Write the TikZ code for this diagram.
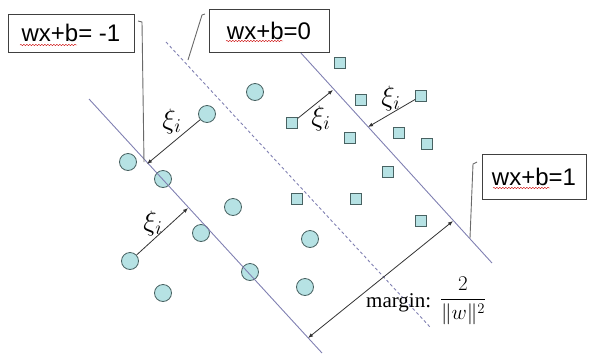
\RequirePackage{fix-cm}
\documentclass[tikz,border=0pt]{standalone}
\usepackage{amsmath}
\usepackage{fontspec}
\setmainfont{Liberation Serif}
\newfontfamily\boxfont{Liberation Sans}
\usepackage{xcolor}
\usetikzlibrary{arrows.meta, positioning, calc, decorations.pathmorphing}

\definecolor{hypline}{RGB}{128,128,178}
\definecolor{ptfill}{RGB}{182,226,228}
\definecolor{ptdraw}{RGB}{72,98,98}
\definecolor{callgray}{RGB}{105,105,105}

\tikzset{
  ptcirc/.style={circle, draw=ptdraw, fill=ptfill, line width=0.8pt, minimum size=17pt, inner sep=0pt},
  ptsq/.style={rectangle, draw=ptdraw, fill=ptfill, line width=0.8pt, minimum size=11pt, inner sep=0pt},
  eqbox/.style={draw=black!75, line width=0.8pt, fill=white, inner sep=0pt,
    font=\boxfont\fontsize{24}{28}\selectfont},
  hyp/.style={hypline, line width=0.9pt},
  slack/.style={black!80, line width=0.8pt, -{Latex[length=5pt,width=4pt]}},
  callout/.style={callgray, line width=0.9pt},
  xilab/.style={font=\fontsize{28}{32}\selectfont, inner sep=0pt},
  squiggle/.style={red!80!black, line width=0.4pt, decorate,
    decoration={snake, amplitude=0.7pt, segment length=3pt}}
}

\begin{document}
\begin{tikzpicture}[x=1pt, y=-1pt]
\useasboundingbox (0,0) rectangle (592,354);

% points of the two classes
\foreach \x/\y [count=\k] in {128/162, 163/179, 207/114, 255/92, 233/207, 201/233,
    130/261, 250/272, 163/293, 310/239, 305/287} {
  \node[ptcirc] (c\k) at (\x,\y) {};
}
\foreach \x/\y [count=\k] in {340/63, 292/123, 361/100, 421/96, 350/138, 399/133,
    427/144, 388/172, 297/199, 356/199, 421/221} {
  \node[ptsq] (s\k) at (\x,\y) {};
}

% the three hyperplanes
\coordinate (lowA) at (89,99);
\coordinate (lowB) at (322,353);
\coordinate (midA) at (166,42);
\coordinate (midB) at (430,327);
\coordinate (upA) at (300,52);
\coordinate (upB) at (492,263);
\draw[hyp] (lowA) -- (lowB);
\draw[hyp, dash pattern=on 3pt off 2.5pt] (midA) -- (midB);
\draw[hyp] (upA) -- (upB);

% slack arrows
\coordinate (f1) at (147,164);
\coordinate (f2) at (188,208);
\coordinate (f3) at (333,90);
\coordinate (f4) at (368,127);
\draw[slack] (c3) -- (f1);
\draw[slack] (c7) -- (f2);
\draw[slack] (s2) -- (f3);
\draw[slack] (s4) -- (f4);

\node[xilab] (xi1) at (172,121) {$\xi_i$};
\node[xilab] (xi2) at (153,223) {$\xi_i$};
\node[xilab] (xi3) at (321,118) {$\xi_i$};
\node[xilab] (xi4) at (391,98) {$\xi_i$};

% margin
\coordinate (m1) at (308,338);
\coordinate (m2) at (453,221);
\draw[black!80, line width=0.8pt, {Latex[length=5pt,width=4pt]}-{Latex[length=5pt,width=4pt]}] (m1) -- (m2);
\node[anchor=base west, inner sep=0pt, font=\fontsize{21}{24}\selectfont] (mlab) at (366,307) {margin:};
\node[inner sep=0pt, font=\fontsize{21}{25}\selectfont] (mfrac) at (463,301) {$\dfrac{2}{\|w\|^2}$};

% equation boxes
\node[eqbox, minimum width=126pt, minimum height=38pt] (eqlow) at (71,33) {wx+b= -1};
\node[eqbox, minimum width=120pt, minimum height=43pt] (eqmid) at (269,30.5) {wx+b=0};
\node[eqbox, minimum width=104pt, minimum height=45pt] (equp) at (534,176.5) {wx+b=1};
\draw[squiggle] (20,45) -- (77,45);
\draw[squiggle] (226,41) -- (283,41);
\draw[squiggle] (493,188) -- (550,188);

% callouts
\coordinate (k1) at (138,21);
\coordinate (k2) at (142,22);
\coordinate (k3) at (144,162);
\draw[callout] (k1) -- (k2) -- (k3);
\coordinate (k4) at (205,14);
\coordinate (k5) at (202,15);
\coordinate (k6) at (188,60);
\draw[callout] (k4) -- (k5) -- (k6);
\coordinate (k7) at (477,162);
\coordinate (k8) at (473,164);
\coordinate (k9) at (470,238);
\draw[callout] (k7) -- (k8) -- (k9);
\end{tikzpicture}
\end{document}
